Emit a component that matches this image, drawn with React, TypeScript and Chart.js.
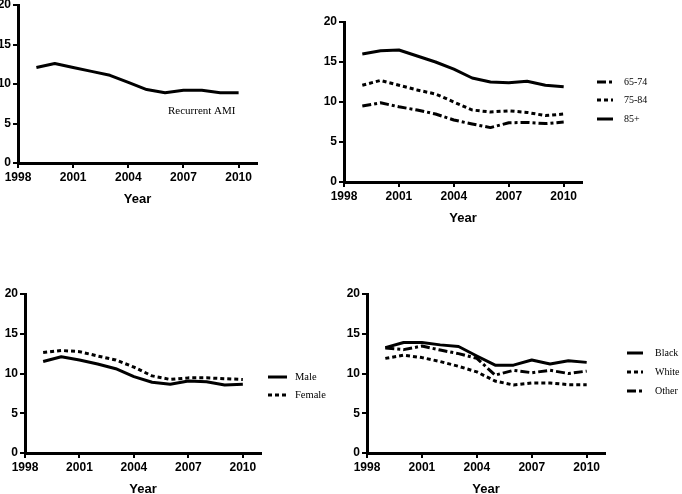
import React, { useEffect, useRef } from 'react';
import { Chart, registerables } from 'chart.js';

Chart.register(...registerables);

// ---------- data ----------
const years = [1999, 2000, 2001, 2002, 2003, 2004, 2005, 2006, 2007, 2008, 2009, 2010];
const xTicks = [1998, 2001, 2004, 2007, 2010];
const yTicks = [0, 5, 10, 15, 20];
const axisTitle = 'Year';
const noteText = 'Recurrent AMI';

const recurrentAMI = [12.1, 12.6, 12.1, 11.6, 11.1, 10.2, 9.3, 8.9, 9.2, 9.2, 8.9, 8.9];

const ageLabels = ['65-74', '75-84', '85+'];
const age6574 = [9.5, 9.9, 9.4, 9.0, 8.5, 7.75, 7.25, 6.8, 7.4, 7.45, 7.3, 7.5];
const age7584 = [12.1, 12.7, 12.1, 11.5, 11.0, 10.0, 9.0, 8.75, 8.9, 8.7, 8.3, 8.5];
const age85 = [16.0, 16.4, 16.5, 15.75, 15.0, 14.1, 13.0, 12.5, 12.4, 12.6, 12.1, 11.9];

const sexLabels = ['Male', 'Female'];
const male = [11.5, 12.1, 11.7, 11.2, 10.6, 9.6, 8.9, 8.65, 9.05, 8.95, 8.55, 8.65];
const female = [12.65, 12.9, 12.75, 12.2, 11.7, 10.8, 9.7, 9.25, 9.45, 9.45, 9.35, 9.25];

const raceLabels = ['Black', 'White', 'Other'];
const black = [13.25, 13.9, 13.9, 13.6, 13.4, 12.2, 11.05, 11.05, 11.7, 11.2, 11.6, 11.4];
const white = [11.9, 12.3, 12.0, 11.5, 10.9, 10.2, 9.05, 8.55, 8.8, 8.8, 8.6, 8.6];
const other = [13.2, 13.0, 13.45, 12.95, 12.5, 11.9, 9.8, 10.4, 10.1, 10.4, 10.0, 10.3];

// ---------- styles ----------
const SOLID: number[] = [];
const DOTTED = [4, 3];
const DASHDOT = [9, 3, 3, 3];

const O = 20; // canvas offset
const W = 682;
const H = 494;
const YW = 30;
const XH = 50;
const SANS = '"Liberation Sans", Arial, sans-serif';
const SERIF = '"Liberation Serif", "Times New Roman", serif';

type Series = { label: string; values: number[]; dash: number[] };
type Panel = {
  area: { l: number; t: number; r: number; b: number };
  series: Series[];
  legend?: { x1: number; x2: number; tx: number; ys: number[]; size: number };
  note?: { x: number; y: number; size: number; text: string };
};

const panels: Panel[] = [
  {
    area: { l: 18, t: 5, r: 257, b: 163 },
    series: [{ label: noteText, values: recurrentAMI, dash: SOLID }],
    note: { x: 168, y: 111, size: 11, text: noteText },
  },
  {
    area: { l: 344, t: 22, r: 582, b: 182 },
    series: [
      { label: ageLabels[0], values: age6574, dash: DASHDOT },
      { label: ageLabels[1], values: age7584, dash: DOTTED },
      { label: ageLabels[2], values: age85, dash: SOLID },
    ],
    legend: { x1: 597, x2: 613, tx: 624, ys: [82, 100, 119], size: 10 },
  },
  {
    area: { l: 25, t: 294, r: 261, b: 453 },
    series: [
      { label: sexLabels[0], values: male, dash: SOLID },
      { label: sexLabels[1], values: female, dash: DOTTED },
    ],
    legend: { x1: 268, x2: 287, tx: 295, ys: [377, 395], size: 10.5 },
  },
  {
    area: { l: 367, t: 294, r: 605, b: 453 },
    series: [
      { label: raceLabels[0], values: black, dash: SOLID },
      { label: raceLabels[1], values: white, dash: DOTTED },
      { label: raceLabels[2], values: other, dash: DASHDOT },
    ],
    legend: { x1: 627, x2: 643, tx: 655, ys: [353, 372, 391], size: 10 },
  },
];

const decorPlugin = {
  id: 'decor',
  afterDraw(chart: any, _args: any, opts: any) {
    const ctx = chart.ctx;
    ctx.save();
    if (opts.legend) {
      const lg = opts.legend;
      chart.data.datasets.forEach((ds: any, i: number) => {
        const y = lg.ys[i] + O;
        ctx.beginPath();
        ctx.setLineDash(ds.borderDash || []);
        ctx.lineWidth = 3;
        ctx.strokeStyle = '#000';
        ctx.lineCap = 'butt';
        ctx.moveTo(lg.x1 + O, y);
        ctx.lineTo(lg.x2 + O, y);
        ctx.stroke();
        ctx.setLineDash([]);
        ctx.fillStyle = '#000';
        ctx.font = `${lg.size}px ${SERIF}`;
        ctx.textBaseline = 'middle';
        ctx.textAlign = 'left';
        ctx.fillText(ds.label, lg.tx + O, y);
      });
    }
    if (opts.note) {
      const n = opts.note;
      ctx.fillStyle = '#000';
      ctx.font = `${n.size}px ${SERIF}`;
      ctx.textBaseline = 'middle';
      ctx.textAlign = 'left';
      ctx.fillText(n.text, n.x + O, n.y + O);
    }
    ctx.restore();
  },
};

function PanelChart({ panel }: { panel: Panel }) {
  const ref = useRef<HTMLCanvasElement | null>(null);
  useEffect(() => {
    if (!ref.current) return;
    const { l, t, r, b } = panel.area;
    const tickFont = { family: SANS, size: 12, weight: 'bold' as const };
    const grid = {
      display: true,
      drawOnChartArea: false,
      drawTicks: true,
      tickLength: 5,
      color: '#000',
      lineWidth: 2,
    };
    const chart = new Chart(ref.current, {
      type: 'line',
      data: {
        datasets: panel.series.map((s) => ({
          label: s.label,
          data: years.map((x, i) => ({ x, y: s.values[i] })),
          borderColor: '#000',
          backgroundColor: '#000',
          borderWidth: 3,
          borderDash: s.dash,
          borderCapStyle: 'butt',
          borderJoinStyle: 'round',
          pointRadius: 0,
          fill: false,
          tension: 0,
        })),
      },
      options: {
        responsive: false,
        animation: false,
        events: [],
        layout: {
          padding: {
            left: l + O - YW,
            top: t + O,
            right: W + O - r,
            bottom: H + O - b - XH,
          },
        },
        plugins: {
          legend: { display: false },
          tooltip: { enabled: false },
          decor: { legend: panel.legend, note: panel.note },
        } as any,
        scales: {
          x: {
            type: 'linear',
            min: 1998,
            max: 2011,
            afterBuildTicks: (s: any) => {
              s.ticks = xTicks.map((v) => ({ value: v }));
            },
            afterFit: (s: any) => {
              s.height = XH;
            },
            grid,
            border: { display: true, color: '#000', width: 3 },
            ticks: {
              color: '#000',
              font: tickFont,
              padding: 2,
              maxRotation: 0,
              autoSkip: false,
              callback: (v: any) => String(v),
            },
            title: {
              display: true,
              text: axisTitle,
              color: '#000',
              font: { family: SANS, size: 13, weight: 'bold' },
              padding: { top: 0, bottom: 6 },
            },
          },
          y: {
            type: 'linear',
            min: 0,
            max: 20,
            afterBuildTicks: (s: any) => {
              s.ticks = yTicks.map((v) => ({ value: v }));
            },
            afterFit: (s: any) => {
              s.width = YW;
            },
            grid,
            border: { display: true, color: '#000', width: 3 },
            ticks: {
              color: '#000',
              font: tickFont,
              padding: 2,
              autoSkip: false,
              callback: (v: any) => String(v),
            },
          },
        },
      } as any,
      plugins: [decorPlugin],
    });
    return () => chart.destroy();
  }, [panel]);
  return (
    <canvas
      ref={ref}
      width={W + 2 * O}
      height={H + 2 * O}
      style={{ position: 'absolute', left: -O, top: -O, width: W + 2 * O, height: H + 2 * O }}
    />
  );
}

export default function App() {
  return (
    <div
      style={{
        position: 'fixed',
        left: 0,
        top: 0,
        width: W,
        height: H,
        overflow: 'hidden',
        background: '#fff',
      }}
    >
      {panels.map((p, i) => (
        <PanelChart key={i} panel={p} />
      ))}
    </div>
  );
}
